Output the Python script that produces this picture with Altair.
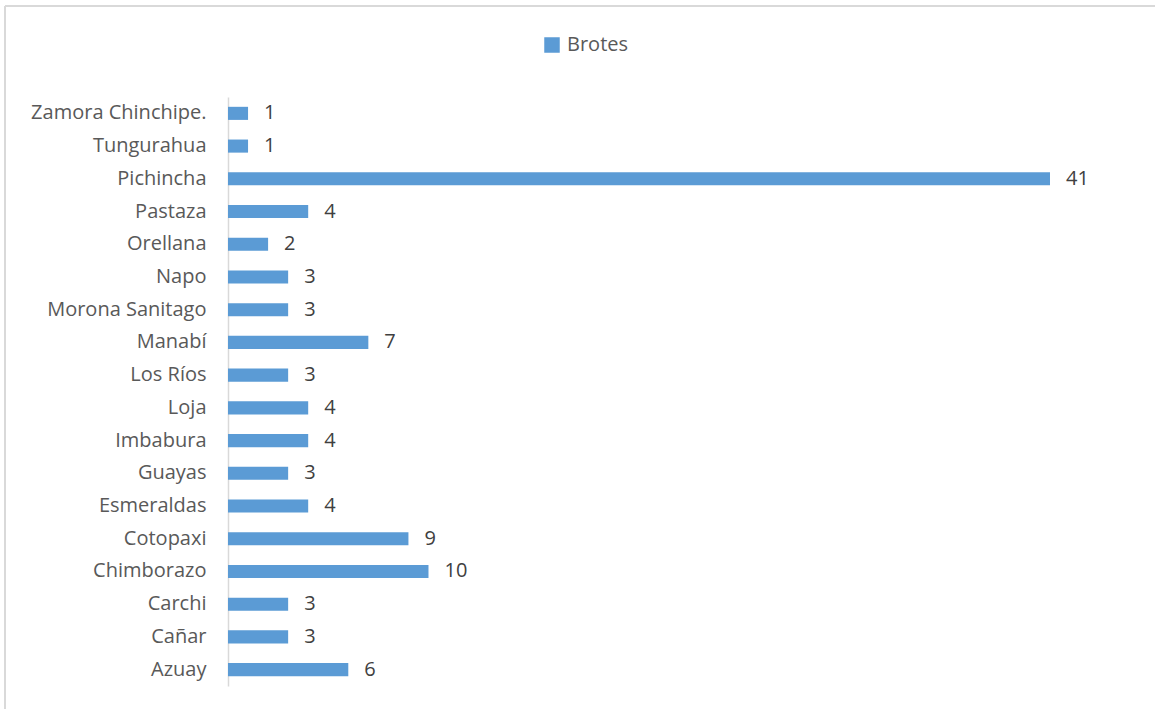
import altair as alt
import pandas as pd

provincias = ["Zamora Chinchipe.", "Tungurahua", "Pichincha", "Pastaza", "Orellana",
              "Napo ", "Morona Sanitago", "Manabí", "Los Ríos", "Loja", "Imbabura",
              "Guayas ", "Esmeraldas", "Cotopaxi", "Chimborazo", "Carchi", "Cañar", "Azuay"]
brotes = [1, 1, 41, 4, 2, 3, 3, 7, 3, 4, 4, 3, 4, 9, 10, 3, 3, 6]

df = pd.DataFrame({"Provincia": provincias, "Brotes": brotes, "Serie": ["Brotes"] * len(brotes)})

FONT = "Open Sans"
TXT = "#595959"

y_enc = alt.Y("Provincia:N", sort=provincias,
              scale=alt.Scale(paddingInner=0.6, paddingOuter=0.3),
              axis=alt.Axis(title=None, ticks=False, domainColor="#d9d9d9", domainWidth=1.5,
                            labelFontSize=20, labelColor=TXT, labelFont=FONT, labelPadding=22))
x_enc = alt.X("Brotes:Q", scale=alt.Scale(domain=[0, 41], nice=False), axis=None)

bars = alt.Chart(df).mark_bar(color="#5B9BD5").encode(
    x=x_enc, y=y_enc,
    color=alt.Color("Serie:N", scale=alt.Scale(range=["#5B9BD5"]),
                    legend=alt.Legend(title=None, orient="none", legendX=314, legendY=-62,
                                      symbolType="square", symbolSize=240, symbolStrokeWidth=0,
                                      labelFontSize=20, labelColor=TXT, labelFont=FONT,
                                      labelOffset=5))
)

labels = alt.Chart(df).mark_text(align="left", baseline="middle", dx=16, fontSize=20,
                                 color="#404040", font=FONT).encode(
    x=x_enc, y=alt.Y("Provincia:N", sort=provincias), text="Brotes:Q")

frame_top = alt.Chart(df).mark_rule(color="#d9d9d9", strokeWidth=1.5).encode(
    x=alt.value(-223), x2=alt.value(940), y=alt.value(-91))
frame_left = alt.Chart(df).mark_rule(color="#d9d9d9", strokeWidth=1.5).encode(
    x=alt.value(-223), y=alt.value(-91), y2=alt.value(620))

chart = alt.layer(frame_top, frame_left, bars, labels).properties(
    width=822, height=589,
    autosize=alt.AutoSizeParams(type="none"),
    padding={"left": 228, "top": 97, "right": 105, "bottom": 23}
).configure(background="white").configure_view(strokeWidth=0, stroke=None)

chart.save("out.html", embed_options={"renderer": "svg", "actions": False})
